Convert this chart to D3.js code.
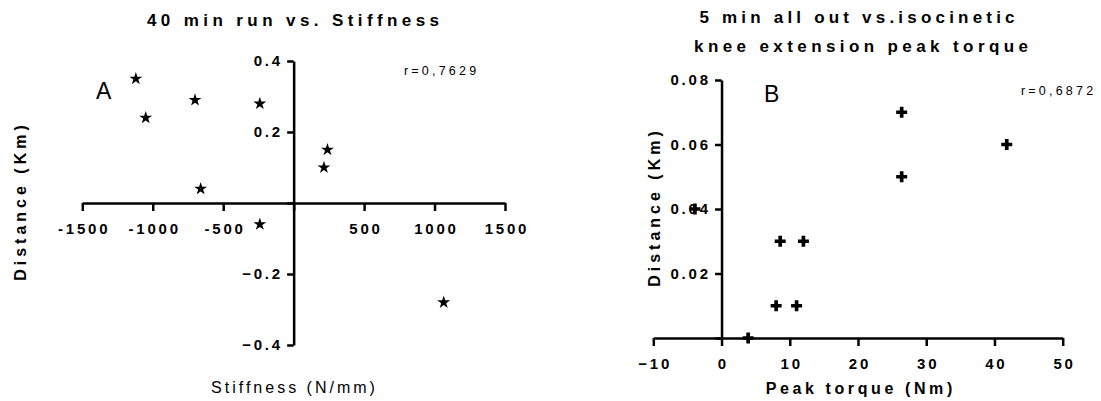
<!DOCTYPE html>
<html>
<head>
<meta charset="utf-8">
<script src="https://cdn.jsdelivr.net/npm/d3@7"></script>
<style>
  body { margin: 0; background: #fff; }
  svg { display: block; font-family: "Liberation Sans", Arial, sans-serif; }
  .axis path, .axis line { stroke: #000; stroke-width: 2.5; }
  .axis text { font-size: 15px; font-weight: bold; letter-spacing: 2.8px; fill: #000; }
</style>
</head>
<body>
<div id="chart"></div>
<script>
// panel A: 40 min run vs stiffness
const stiffness = [-1120, -1050, -700, -240, 240, 215, -660, -240, 1065];
const distanceA = [0.35, 0.24, 0.29, 0.28, 0.15, 0.10, 0.04, -0.06, -0.28];
const ticksAx = [-1500, -1000, -500, 0, 500, 1000, 1500];
const ticksAy = [-0.4, -0.2, 0, 0.2, 0.4];

// panel B: 5 min all out vs peak torque
const peakTorque = [26.4, 41.8, 26.4, -3.9, 8.6, 12.0, 8.0, 11.0, 3.9];
const distanceB = [0.07, 0.06, 0.05, 0.04, 0.03, 0.03, 0.01, 0.01, 0.0];
const ticksBx = [-10, 0, 10, 20, 30, 40, 50];
const ticksBy = [0, 0.02, 0.04, 0.06, 0.08];

const width = 1101, height = 401;
const ls = 2.8; // tick letter spacing

const svg = d3.select('#chart').append('svg')
  .attr('width', width)
  .attr('height', height);

function label(x, y, text, opts) {
  const t = svg.append('text')
    .attr('x', x).attr('y', y)
    .attr('text-anchor', opts.anchor || 'middle')
    .style('font-size', opts.size + 'px')
    .style('font-weight', opts.weight || 'normal')
    .style('letter-spacing', (opts.ls || 0) + 'px')
    .text(text);
  if (opts.anchor !== 'start') t.attr('dx', (opts.ls || 0) / 2);
  if (opts.rotate) t.attr('transform', `rotate(-90, ${x}, ${y})`);
  return t;
}

// ---------- panel A ----------
const xA = d3.scaleLinear().domain([-1500, 1500]).range([82.3, 505]);
const yA = d3.scaleLinear().domain([-0.4, 0.4]).range([345, 61]);

svg.append('g').attr('class', 'axis')
  .attr('transform', `translate(0,${yA(0)})`)
  .call(d3.axisBottom(xA).tickValues(ticksAx).tickSize(8).tickSizeOuter(0).tickPadding(12)
    .tickFormat(d => d === 0 ? '' : d))
  .selectAll('text').attr('dx', ls / 2);

svg.append('g').attr('class', 'axis')
  .attr('transform', `translate(${xA(0)},0)`)
  .call(d3.axisLeft(yA).tickValues(ticksAy).tickSize(6.5).tickSizeOuter(0).tickPadding(7)
    .tickFormat(d => d === 0 ? '' : d3.format('.1f')(d)))
  .selectAll('text').attr('dx', ls);

svg.append('g').selectAll('path')
  .data(stiffness)
  .enter().append('path')
  .attr('d', d3.symbol(d3.symbolStar, 52))
  .attr('transform', (d, i) => `translate(${xA(d)},${yA(distanceA[i])})`)
  .attr('fill', '#000');

label(293, 26, '40 min run vs. Stiffness', { size: 17, weight: 'bold', ls: 4.4 });
label(293, 393, 'Stiffness (N/mm)', { size: 16, ls: 3 });
label(26, 203, 'Distance (Km)', { size: 16, weight: 'bold', ls: 4, rotate: true });
label(96, 99, 'A', { size: 23, anchor: 'start' });
label(404, 75, 'r=0,7629', { size: 12.5, ls: 3.2, anchor: 'start' });

// ---------- panel B ----------
const xB = d3.scaleLinear().domain([-10, 50]).range([653.3, 1062.7]);
const yB = d3.scaleLinear().domain([0, 0.08]).range([338, 80]);

svg.append('g').attr('class', 'axis')
  .attr('transform', `translate(0,${yB(0)})`)
  .call(d3.axisBottom(xB).tickValues(ticksBx).tickSize(8).tickSizeOuter(0).tickPadding(12))
  .selectAll('text').attr('dx', ls / 2);

svg.append('g').attr('class', 'axis')
  .attr('transform', `translate(${xB(0)},0)`)
  .call(d3.axisLeft(yB).tickValues(ticksBy).tickSize(6.5).tickSizeOuter(0).tickPadding(7)
    .tickFormat(d => d === 0 ? '' : d3.format('.2f')(d)))
  .selectAll('text').attr('dx', ls);

svg.append('g').selectAll('path')
  .data(peakTorque)
  .enter().append('path')
  .attr('d', d3.symbol(d3.symbolCross, 67))
  .attr('transform', (d, i) => `translate(${xB(d)},${yB(distanceB[i])})`)
  .attr('fill', '#000');

label(857, 23, '5 min all out vs.isocinetic', { size: 17, weight: 'bold', ls: 4.2 });
label(861, 52, 'knee extension peak torque', { size: 17, weight: 'bold', ls: 4.4 });
label(859, 394, 'Peak torque (Nm)', { size: 16, weight: 'bold', ls: 3.6 });
label(660, 209, 'Distance (Km)', { size: 16, weight: 'bold', ls: 4, rotate: true });
label(764, 102, 'B', { size: 23, anchor: 'start' });
label(1021, 95, 'r=0,6872', { size: 12.5, ls: 3.2, anchor: 'start' });
</script>
</body>
</html>
